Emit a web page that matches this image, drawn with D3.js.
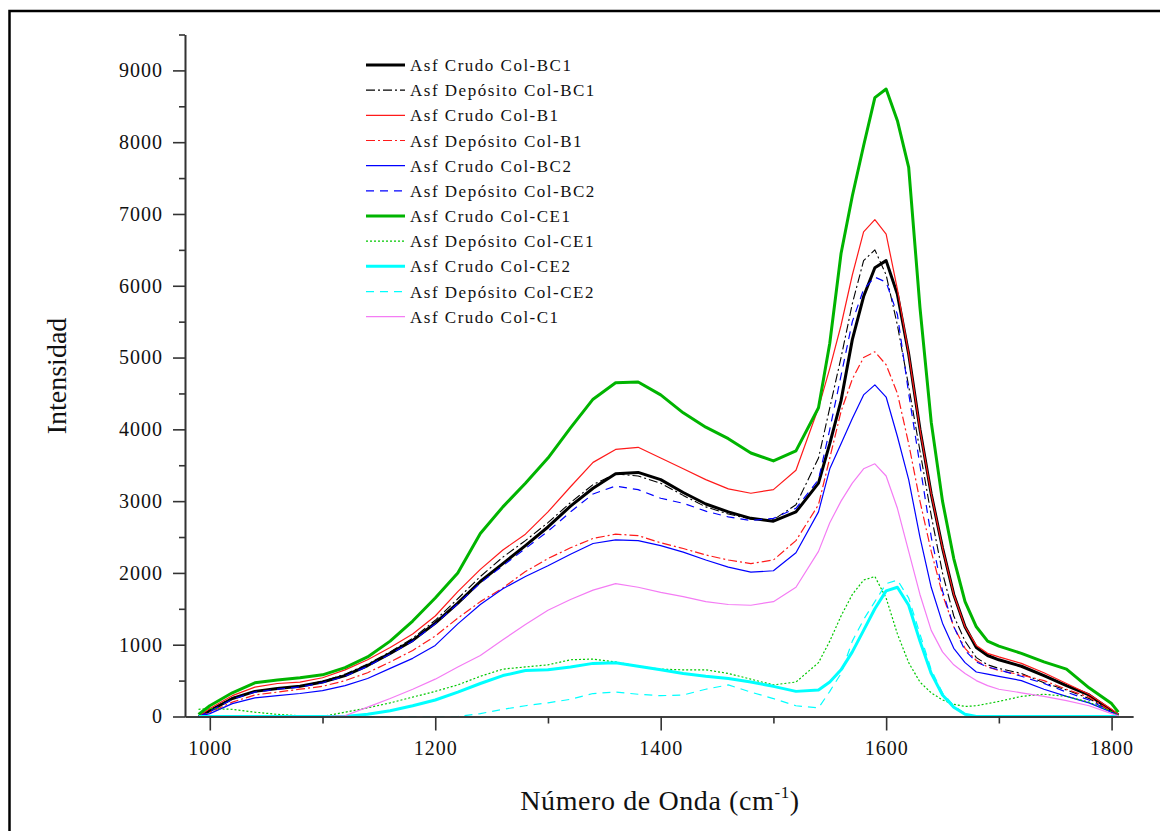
<!DOCTYPE html>
<html>
<head>
<meta charset="utf-8">
<script src="https://cdn.jsdelivr.net/npm/d3@7"></script>
<style>
  body { margin: 0; background: #fff; }
  text { font-family: "Liberation Serif", "Times New Roman", serif; fill: #111; }
</style>
</head>
<body>
<svg id="chart" width="1160" height="831"></svg>
<script>
// wavenumbers (cm-1) shared by every spectrum
const waveNumbers = [990, 1000, 1020, 1040, 1060, 1080, 1100, 1120, 1140, 1160, 1180, 1200, 1220, 1240, 1260, 1280, 1300, 1320, 1340, 1360, 1380, 1400, 1420, 1440, 1460, 1480, 1500, 1520, 1540, 1550, 1560, 1570, 1580, 1590, 1600, 1610, 1620, 1630, 1640, 1650, 1660, 1670, 1680, 1690, 1700, 1720, 1740, 1760, 1780, 1800, 1806];

const crudoBC1 = [0, 80, 250, 350, 390, 420, 480, 570, 710, 880, 1060, 1300, 1580, 1880, 2130, 2380, 2640, 2930, 3180, 3380, 3400, 3300, 3120, 2960, 2850, 2760, 2720, 2850, 3250, 3800, 4400, 5250, 5850, 6250, 6350, 5880, 5050, 4000, 3100, 2350, 1700, 1250, 960, 850, 790, 700, 570, 430, 300, 80, 20];
const depositoBC1 = [0, 90, 260, 350, 390, 420, 490, 590, 730, 900, 1090, 1340, 1640, 1950, 2220, 2450, 2700, 2980, 3230, 3380, 3350, 3250, 3080, 2920, 2820, 2750, 2740, 2950, 3600, 4300, 5000, 5750, 6350, 6500, 6150, 5450, 4600, 3700, 2800, 2000, 1400, 1050, 820, 720, 670, 600, 470, 370, 250, 70, 20];
const crudoB1 = [0, 110, 290, 410, 460, 480, 540, 650, 790, 960, 1150, 1400, 1740, 2050, 2320, 2540, 2850, 3200, 3540, 3720, 3750, 3600, 3450, 3300, 3170, 3110, 3160, 3430, 4300, 4850, 5450, 6150, 6750, 6920, 6720, 5950, 5050, 4000, 3100, 2350, 1700, 1250, 990, 880, 830, 740, 610, 460, 310, 100, 30];
const depositoB1 = [0, 60, 200, 300, 340, 380, 420, 500, 610, 760, 920, 1120, 1370, 1600, 1790, 2020, 2200, 2350, 2480, 2540, 2520, 2420, 2340, 2250, 2180, 2130, 2180, 2450, 2950, 3600, 4250, 4700, 5000, 5080, 4900, 4500, 3800, 3000, 2300, 1700, 1250, 950, 780, 690, 640, 580, 500, 380, 270, 70, 20];
const crudoBC2 = [0, 40, 180, 260, 290, 320, 360, 430, 530, 670, 810, 990, 1290, 1560, 1780, 1950, 2100, 2260, 2410, 2460, 2450, 2380, 2290, 2180, 2080, 2010, 2030, 2280, 2850, 3450, 3800, 4150, 4480, 4620, 4450, 3900, 3300, 2500, 1800, 1300, 950, 750, 620, 590, 560, 500, 380, 280, 190, 60, 20];
const depositoBC2 = [0, 70, 240, 340, 380, 410, 470, 560, 700, 870, 1050, 1290, 1570, 1860, 2100, 2340, 2580, 2850, 3100, 3210, 3160, 3040, 2970, 2860, 2780, 2730, 2760, 2900, 3300, 4000, 4750, 5500, 5950, 6120, 6050, 5600, 4500, 3500, 2500, 1750, 1250, 920, 760, 690, 650, 560, 460, 340, 230, 60, 20];
const crudoCE1 = [30, 150, 330, 470, 510, 540, 580, 680, 830, 1050, 1330, 1650, 2000, 2550, 2920, 3250, 3600, 4020, 4420, 4650, 4660, 4480, 4230, 4030, 3870, 3670, 3560, 3700, 4300, 5200, 6450, 7250, 7950, 8620, 8740, 8300, 7650, 5700, 4100, 3000, 2200, 1600, 1250, 1050, 980, 880, 760, 660, 400, 180, 60];
const depositoCE1 = [100, 110, 100, 60, 30, 10, 0, 60, 120, 190, 270, 350, 440, 560, 660, 690, 720, 790, 800, 760, 700, 660, 650, 650, 600, 520, 440, 480, 750, 1050, 1400, 1700, 1900, 1950, 1650, 1150, 750, 480, 330, 230, 170, 140, 150, 180, 210, 280, 310, 280, 200, 70, 20];
const crudoCE2 = [0, 0, 0, 0, 0, 0, 0, 0, 30, 80, 150, 230, 340, 460, 570, 640, 650, 690, 740, 750, 700, 650, 600, 560, 530, 480, 420, 350, 370, 480, 650, 900, 1200, 1500, 1750, 1800, 1550, 1050, 600, 300, 130, 30, 0, 0, 0, 0, 0, 0, 0, 0, 0];
const depositoCE2 = [0, 0, 0, 0, 0, 0, 0, 0, 0, 0, 0, 0, 0, 40, 100, 150, 190, 240, 320, 340, 310, 290, 300, 380, 440, 340, 250, 150, 120, 350, 600, 1050, 1350, 1600, 1850, 1900, 1650, 1150, 650, 330, 150, 40, 0, 0, 0, 0, 0, 0, 0, 0, 0];
const crudoC1 = [0, 0, 0, 0, 0, 0, 0, 10, 130, 250, 380, 520, 690, 850, 1070, 1280, 1480, 1630, 1760, 1850, 1800, 1730, 1670, 1600, 1560, 1550, 1600, 1800, 2300, 2700, 3000, 3250, 3450, 3520, 3350, 2900, 2300, 1700, 1200, 900, 720, 600, 500, 430, 380, 330, 280, 220, 150, 40, 10];

const seriesNames = ['Asf Crudo Col-BC1', 'Asf Depósito Col-BC1', 'Asf Crudo Col-B1', 'Asf Depósito Col-B1', 'Asf Crudo Col-BC2', 'Asf Depósito Col-BC2', 'Asf Crudo Col-CE1', 'Asf Depósito Col-CE1', 'Asf Crudo Col-CE2', 'Asf Depósito Col-CE2', 'Asf Crudo Col-C1'];
const seriesValues = [crudoBC1, depositoBC1, crudoB1, depositoB1, crudoBC2, depositoBC2, crudoCE1, depositoCE1, crudoCE2, depositoCE2, crudoC1];

const xTicks = [1000, 1200, 1400, 1600, 1800];
const yTicks = [0, 1000, 2000, 3000, 4000, 5000, 6000, 7000, 8000, 9000];

// line styles, one per series (colour, width, dash)
const styles = [
  { c: '#000000', w: 3, d: null },
  { c: '#000000', w: 1.1, d: '9,3,2,3' },
  { c: '#ff1a1a', w: 1.2, d: null },
  { c: '#ff1a1a', w: 1.2, d: '9,3,2,3' },
  { c: '#0000ff', w: 1.2, d: null },
  { c: '#0000ff', w: 1.2, d: '8,6' },
  { c: '#00b400', w: 3, d: null },
  { c: '#00c800', w: 1.2, d: '2,2' },
  { c: '#00ffff', w: 3, d: null },
  { c: '#00ffff', w: 1.2, d: '8,6' },
  { c: '#f47cf4', w: 1.2, d: null }
];

const svg = d3.select('#chart');

// outer frame (runs off the right and bottom edge)
svg.append('rect')
  .attr('x', 9.5).attr('y', 11)
  .attr('width', 1300).attr('height', 1000)
  .attr('fill', 'none')
  .attr('stroke', '#000')
  .attr('stroke-width', 2.5);

const x = d3.scaleLinear().domain([978, 1819]).range([185, 1133]);
const y = d3.scaleLinear().domain([0, 9500]).range([716.5, 34.5]);

const line = d3.line()
  .x((d) => x(d[0]))
  .y((d) => y(d[1]));

// spectra
seriesValues.forEach((vals, i) => {
  const pts = waveNumbers.map((w, j) => [w, vals[j]]);
  svg.append('path')
    .datum(pts)
    .attr('d', line)
    .attr('fill', 'none')
    .attr('stroke', styles[i].c)
    .attr('stroke-width', styles[i].w)
    .attr('stroke-dasharray', styles[i].d)
    .attr('stroke-linejoin', 'round');
});

// axes
const axisColor = '#333';
svg.append('g')
  .attr('transform', `translate(0, ${y(0)})`)
  .call(d3.axisBottom(x).tickValues(xTicks).tickFormat(d3.format('d')).tickSize(14).tickSizeOuter(0).tickPadding(10));
svg.append('g')
  .attr('transform', `translate(0, ${y(0)})`)
  .call(d3.axisBottom(x).tickValues([1100, 1300, 1500, 1700]).tickFormat('').tickSize(7).tickSizeOuter(0));

svg.append('g')
  .attr('transform', `translate(${x.range()[0]}, 0)`)
  .call(d3.axisLeft(y).tickValues(yTicks).tickFormat(d3.format('d')).tickSize(12).tickSizeOuter(0).tickPadding(10));
svg.append('g')
  .attr('transform', `translate(${x.range()[0]}, 0)`)
  .call(d3.axisLeft(y).tickValues(d3.range(500, 10000, 1000)).tickFormat('').tickSize(6).tickSizeOuter(0));

svg.selectAll('.domain, .tick line')
  .attr('stroke', axisColor)
  .attr('stroke-width', 1.6);

svg.selectAll('.tick text')
  .attr('font-family', '"Liberation Serif", serif')
  .attr('font-size', 20)
  .attr('letter-spacing', 1)
  .attr('fill', '#111');

// axis titles
const xTitle = svg.append('text')
  .attr('x', 660).attr('y', 810)
  .attr('text-anchor', 'middle')
  .attr('font-size', 28)
  .attr('letter-spacing', 0.6);
xTitle.append('tspan').text('Número de Onda (cm');
xTitle.append('tspan').text('-1').attr('font-size', 17).attr('dy', -12);
xTitle.append('tspan').text(')').attr('dy', 12);

svg.append('text')
  .attr('transform', 'translate(66, 376) rotate(-90)')
  .attr('text-anchor', 'middle')
  .attr('font-size', 28)
  .text('Intensidad');

// legend
const legend = svg.append('g')
  .selectAll('g')
  .data(seriesNames)
  .join('g')
  .attr('transform', (d, i) => `translate(366, ${65 + i * 25.17})`);

legend.append('line')
  .attr('x1', 0).attr('x2', 39)
  .attr('stroke', (d, i) => styles[i].c)
  .attr('stroke-width', (d, i) => styles[i].w)
  .attr('stroke-dasharray', (d, i) => styles[i].d);

legend.append('text')
  .attr('x', 44).attr('y', 6)
  .attr('font-size', 17)
  .attr('letter-spacing', 1.5)
  .text((d) => d);
</script>
</body>
</html>
